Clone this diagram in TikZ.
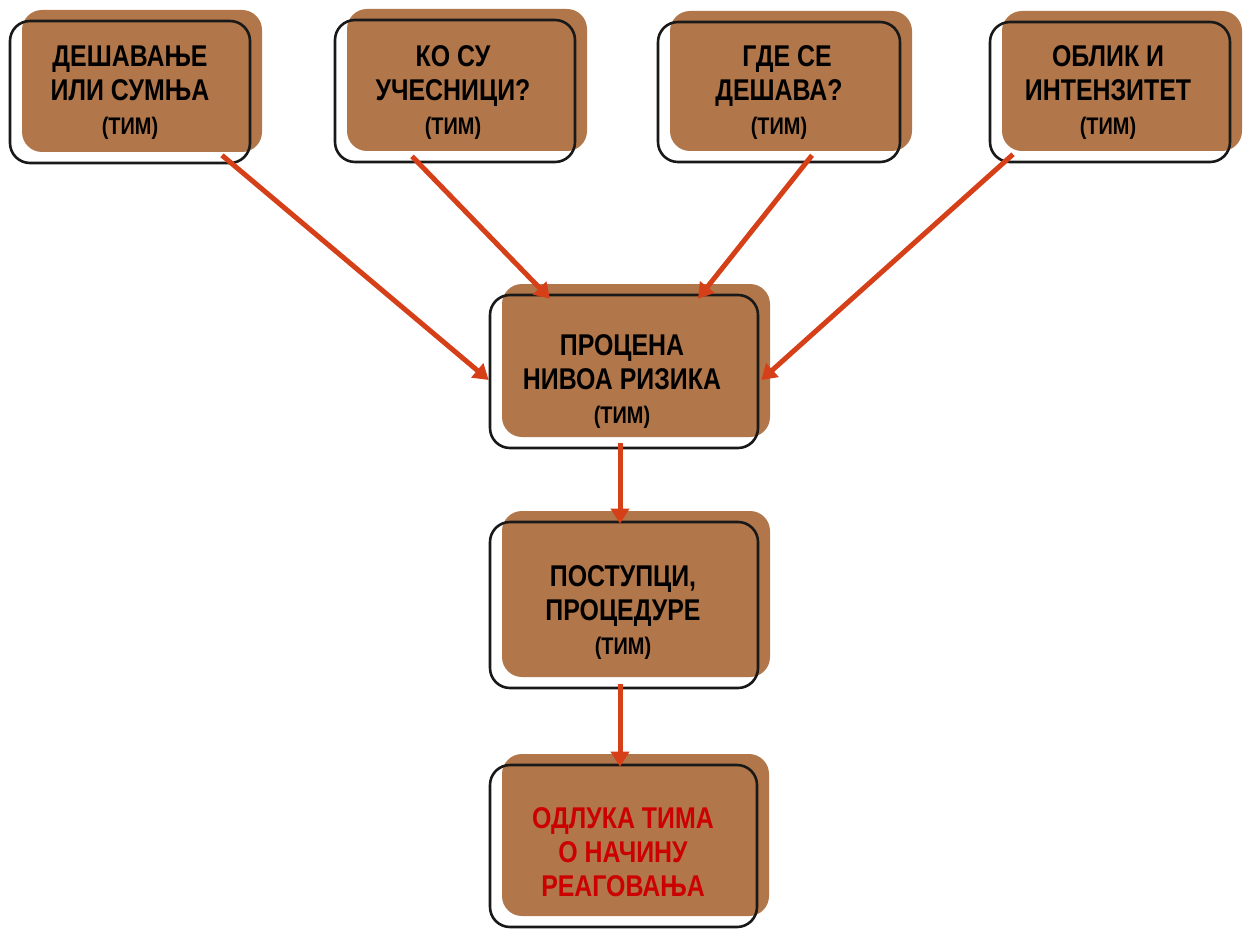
\documentclass[tikz,border=0pt]{standalone}
\usepackage{fontspec}
\newfontfamily\boxfont{Liberation Sans}[FakeStretch=0.83]
\usetikzlibrary{arrows.meta,shadows,calc}
\definecolor{boxbrown}{RGB}{177,118,73}
\definecolor{arrowred}{RGB}{214,64,24}
\definecolor{textred}{RGB}{204,0,0}
\newcommand\timtag{{\fontsize{24}{26}\selectfont (ТИМ)}}
\tikzset{
  stepbox/.style={draw=black!90, line width=2.6pt, rounded corners=20pt,
    inner sep=0pt,
    general shadow={fill=boxbrown, draw=none, rounded corners=24pt,
      shadow xshift=12pt, shadow yshift=11pt}},
  boxtext/.style={align=center, inner sep=0pt,
    font=\boxfont\bfseries\fontsize{30}{34}\selectfont},
  flow/.style={draw=arrowred, line width=5pt,
    -{Triangle[width=18pt,length=15pt]}}
}
\begin{document}
\begin{tikzpicture}[x=1pt,y=-1pt]
\useasboundingbox (0,0) rectangle (1246,928);

% top row of inputs
\node[stepbox, minimum width=240pt, minimum height=142pt] (b1) at (130,92) {};
\node[stepbox, minimum width=240pt, minimum height=142pt] (b2) at (455,91) {};
\node[stepbox, minimum width=242pt, minimum height=140pt] (b3) at (779,92) {};
\node[stepbox, minimum width=240pt, minimum height=140pt] (b4) at (1110,92) {};

% risk assessment, procedures, decision
\node[stepbox, minimum width=268pt, minimum height=153pt] (c) at (624,371.5) {};
\node[stepbox, minimum width=268pt, minimum height=166pt] (p) at (624,605) {};
\node[stepbox, minimum width=267pt, minimum height=162pt] (d) at (623.5,846) {};

% labels
\node[boxtext] (t1) at (130,93) {ДЕШАВАЊЕ\\ИЛИ СУМЊА\\\timtag};
\node[boxtext] (t2) at (453,93) {КО СУ\\УЧЕСНИЦИ?\\\timtag};
\node[boxtext] (t3) at (779,93) {\hspace*{16pt}ГДЕ СЕ\\ДЕШАВА?\\\timtag};
\node[boxtext] (t4) at (1108,93) {ОБЛИК И\\ИНТЕНЗИТЕТ\\\timtag};
\node[boxtext] (tc) at (622,382) {ПРОЦЕНА\\НИВОА РИЗИКА\\\timtag};
\node[boxtext] (tp) at (623,613) {ПОСТУПЦИ,\\ПРОЦЕДУРЕ\\\timtag};
\node[boxtext, text=textred] (td) at (623,852) {ОДЛУКА ТИМА\\О НАЧИНУ\\РЕАГОВАЊА};

% connectors
\draw[flow] ($(b1.south)+(92,-9)$) -- ($(c.west)+(0,8.5)$);
\draw[flow] ($(b2.south)+(-43,-7)$) -- ($(c.north)+(-74,5)$);
\draw[flow] ($(b3.south)+(33,-8)$) -- ($(c.north)+(74,5)$);
\draw[flow] ($(b4.south)+(-97,-9)$) -- ($(c.east)+(2,8.5)$);
\draw[flow] ($(c.south)+(-4,-6)$) -- ($(p.north)+(-4,3)$);
\draw[flow] ($(p.south)+(-4,-5)$) -- ($(d.north)+(-3.5,3)$);
\end{tikzpicture}
\end{document}
